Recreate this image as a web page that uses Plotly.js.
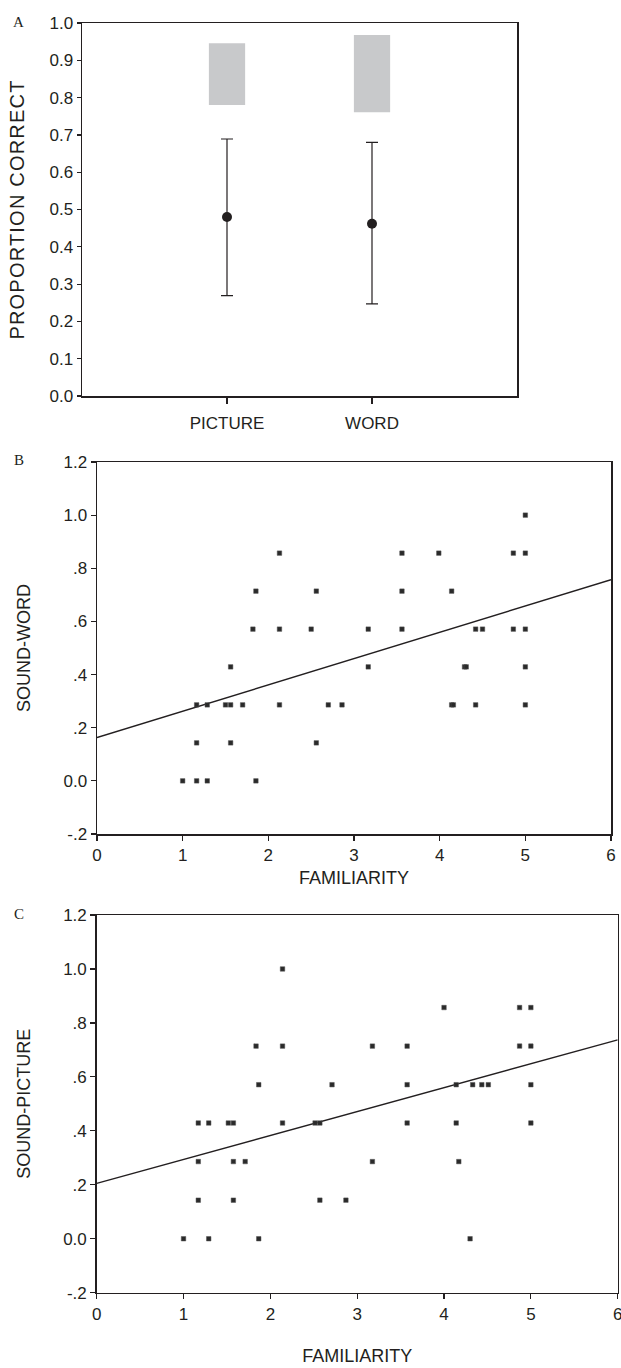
<!DOCTYPE html>
<html>
<head>
<meta charset="utf-8">
<script src="https://cdn.plot.ly/plotly-3.0.1.min.js"></script>
<style>
html,body{margin:0;padding:0;background:#fff;}
#chart{width:621px;height:1368px;}
#chart .ytitle{letter-spacing:1.2px;}
</style>
</head>
<body>
<div id="chart"></div>
<script>
// ---------- Panel A data ----------
const conditions = ['PICTURE', 'WORD'];
const conditionPos = [1, 2];
const meanCorrect = [0.48, 0.462];
const errUpper = [0.209, 0.218];
const errLower = [0.211, 0.215];
const rangeLow = [0.780, 0.761];
const rangeHigh = [0.946, 0.968];

// ---------- Panel B data (SOUND-WORD vs FAMILIARITY) ----------
const swFamiliarity = [
  5.0,
  2.13, 3.56, 3.99, 4.86, 5.0,
  1.855, 2.56, 3.56, 4.14,
  1.82, 2.13, 2.50, 3.166, 3.56, 4.42, 4.50, 4.86, 5.0,
  1.56, 3.166, 4.29, 4.31, 5.0,
  1.163, 1.287, 1.50, 1.56, 1.70, 2.13, 2.70, 2.86, 4.14, 4.16, 4.42, 5.0,
  1.163, 1.56, 2.56,
  1.0, 1.163, 1.287, 1.855
];
const swScore = [
  1.0,
  0.857, 0.857, 0.857, 0.857, 0.857,
  0.714, 0.714, 0.714, 0.714,
  0.571, 0.571, 0.571, 0.571, 0.571, 0.571, 0.571, 0.571, 0.571,
  0.429, 0.429, 0.429, 0.429, 0.429,
  0.286, 0.286, 0.286, 0.286, 0.286, 0.286, 0.286, 0.286, 0.286, 0.286, 0.286, 0.286,
  0.143, 0.143, 0.143,
  0.0, 0.0, 0.0, 0.0
];
const swFit = {intercept: 0.163, slope: 0.099};

// ---------- Panel C data (SOUND-PICTURE vs FAMILIARITY) ----------
const spFamiliarity = [
  2.14,
  4.00, 4.87, 5.0,
  1.835, 2.14, 3.175, 3.575, 4.87, 5.0,
  1.866, 2.71, 3.575, 4.14, 4.33, 4.435, 4.51, 5.0,
  1.17, 1.29, 1.516, 1.574, 2.14, 2.515, 2.57, 3.575, 4.14, 5.0,
  1.17, 1.574, 1.71, 3.175, 4.17,
  1.17, 1.574, 2.57, 2.87,
  1.0, 1.29, 1.866, 4.30
];
const spScore = [
  1.0,
  0.857, 0.857, 0.857,
  0.714, 0.714, 0.714, 0.714, 0.714, 0.714,
  0.571, 0.571, 0.571, 0.571, 0.571, 0.571, 0.571, 0.571,
  0.429, 0.429, 0.429, 0.429, 0.429, 0.429, 0.429, 0.429, 0.429, 0.429,
  0.286, 0.286, 0.286, 0.286, 0.286,
  0.143, 0.143, 0.143, 0.143,
  0.0, 0.0, 0.0, 0.0
];
const spFit = {intercept: 0.205, slope: 0.0887};

const famRange = [0, 6];
const scoreTickVals = [-0.2, 0, 0.2, 0.4, 0.6, 0.8, 1.0, 1.2];
const scoreTickText = ['-.2', '0.0', '.2', '.4', '.6', '.8', '1.0', '1.2'];
const propTickVals = [0, 0.1, 0.2, 0.3, 0.4, 0.5, 0.6, 0.7, 0.8, 0.9, 1.0];

// ---------- Build ----------
const W = 621, H = 1368;
const ink = '#231f20';
const FONT = 'Liberation Sans, Arial, sans-serif';
const px = (a, b) => [a / W, b / W];
const py = (top, bottom) => [1 - bottom / H, 1 - top / H];

const traces = [];
// Panel A: gray range boxes
traces.push({
  type: 'bar', x: conditionPos, base: rangeLow,
  y: rangeHigh.map((h, i) => h - rangeLow[i]),
  width: 0.25, marker: {color: '#c8c9cb', line: {width: 0}},
  xaxis: 'x', yaxis: 'y', hoverinfo: 'skip'
});
// Panel A: means with error bars
traces.push({
  type: 'scatter', mode: 'markers', x: conditionPos, y: meanCorrect,
  marker: {color: ink, size: 10, symbol: 'circle'},
  error_y: {type: 'data', symmetric: false, array: errUpper, arrayminus: errLower,
            color: ink, thickness: 1.2, width: 6},
  xaxis: 'x', yaxis: 'y'
});

function lineFromFit(fit) {
  return {x: famRange.slice(), y: famRange.map(v => fit.intercept + fit.slope * v)};
}
// Panel B
const lb = lineFromFit(swFit);
traces.push({type: 'scatter', mode: 'lines', x: lb.x, y: lb.y,
  line: {color: ink, width: 1.4}, xaxis: 'x2', yaxis: 'y2'});
traces.push({type: 'scatter', mode: 'markers', x: swFamiliarity, y: swScore,
  marker: {color: '#2a2a2a', size: 4.5, symbol: 'square', line: {color: '#555', width: 0.5}},
  xaxis: 'x2', yaxis: 'y2'});
// Panel C
const lc = lineFromFit(spFit);
traces.push({type: 'scatter', mode: 'lines', x: lc.x, y: lc.y,
  line: {color: ink, width: 1.4}, xaxis: 'x3', yaxis: 'y3'});
traces.push({type: 'scatter', mode: 'markers', x: spFamiliarity, y: spScore,
  marker: {color: '#2a2a2a', size: 4.5, symbol: 'square', line: {color: '#555', width: 0.5}},
  xaxis: 'x3', yaxis: 'y3'});

const tickFont = {family: FONT, size: 17, color: ink};
const titleFont = {family: FONT, size: 18, color: ink};
const baseAxis = {
  showline: true, linecolor: ink, linewidth: 1.5, mirror: true,
  ticks: 'outside', ticklen: 5, tickwidth: 1.2, tickcolor: ink,
  showgrid: false, zeroline: false, tickfont: tickFont, fixedrange: true
};

const layout = {
  width: W, height: H,
  margin: {l: 0, r: 0, t: 0, b: 0},
  paper_bgcolor: '#fff', plot_bgcolor: '#fff',
  showlegend: false,
  font: {family: FONT, color: ink},
  xaxis: Object.assign({}, baseAxis, {
    domain: px(82, 517), range: [0, 3], tickvals: conditionPos, ticktext: conditions,
    ticklen: 6, ticklabelstandoff: 5, anchor: 'y'
  }),
  yaxis: Object.assign({}, baseAxis, {
    domain: py(23, 396), range: [0, 1.0], tickvals: propTickVals,
    tickformat: '.1f', ticklen: 4, anchor: 'x',
    title: {text: 'PROPORTION CORRECT', font: {family: FONT, size: 20, color: ink}, standoff: 19}
  }),
  xaxis2: Object.assign({}, baseAxis, {
    domain: px(97, 611), range: famRange, dtick: 1, anchor: 'y2',
    title: {text: 'FAMILIARITY', font: titleFont, standoff: 7}
  }),
  yaxis2: Object.assign({}, baseAxis, {
    domain: py(462, 834), range: [-0.2, 1.2], tickvals: scoreTickVals, ticktext: scoreTickText,
    anchor: 'x2', title: {text: 'SOUND-WORD', font: titleFont, standoff: 28}
  }),
  xaxis3: Object.assign({}, baseAxis, {
    domain: px(96.7, 617.7), range: famRange, dtick: 1, anchor: 'y3',
    ticklabeloverflow: 'allow',
    title: {text: 'FAMILIARITY', font: titleFont, standoff: 27}
  }),
  yaxis3: Object.assign({}, baseAxis, {
    domain: py(915, 1292.7), range: [-0.2, 1.2], tickvals: scoreTickVals, ticktext: scoreTickText,
    anchor: 'x3', title: {text: 'SOUND-PICTURE', font: titleFont, standoff: 28}
  }),
  annotations: [
    {text: 'A', x: 18 / W, y: 1 - 22 / H},
    {text: 'B', x: 19 / W, y: 1 - 460 / H},
    {text: 'C', x: 19 / W, y: 1 - 914 / H}
  ].map(a => Object.assign(a, {xref: 'paper', yref: 'paper', showarrow: false,
    xanchor: 'center', yanchor: 'middle',
    font: {family: 'Liberation Serif, Times New Roman, serif', size: 15, color: ink}}))
};

Plotly.newPlot('chart', traces, layout, {displayModeBar: false, staticPlot: true});
</script>
</body>
</html>
